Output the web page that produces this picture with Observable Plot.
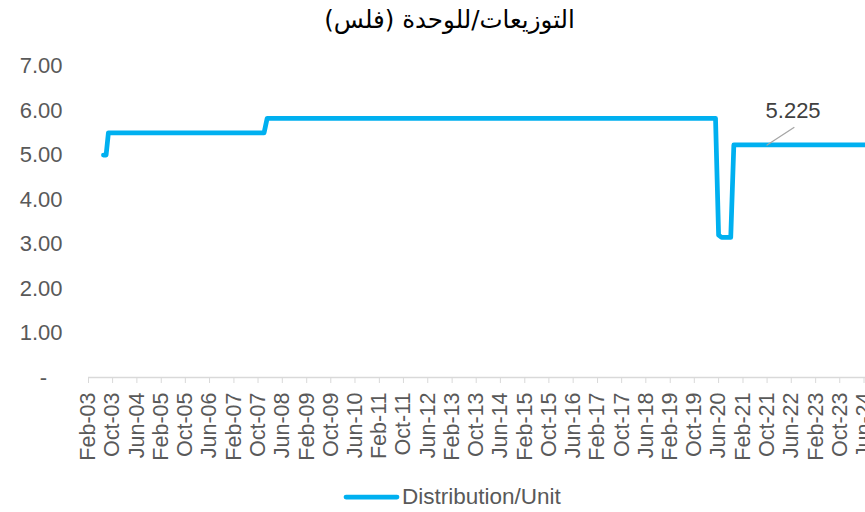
<!DOCTYPE html>
<html>
<head>
<meta charset="utf-8">
<script src="https://cdn.jsdelivr.net/npm/d3@7"></script>
<script src="https://cdn.jsdelivr.net/npm/@observablehq/plot@0.6"></script>
<style>
  body { margin: 0; background: #fff; font-family: "Liberation Sans", Arial, sans-serif; }
  #wrap { width: 865px; height: 512px; overflow: hidden; position: relative; }
  #title { height: 42px; line-height: 40px; text-align: center; font-size: 24.5px; color: #000; font-family: "DejaVu Sans", sans-serif; padding-left: 34px; box-sizing: border-box; }
  #chart { height: 440px; overflow: hidden; }
  #legend { height: 30px; display: flex; align-items: center; padding-left: 342px; font-size: 22.5px; color: #595959; }
  #legend svg { margin-right: 2px; }
</style>
</head>
<body>
<div id="wrap">
  <div id="title" dir="rtl">التوزيعات/للوحدة (فلس)</div>
  <div id="chart"></div>
  <div id="legend"><svg width="58" height="12"><line x1="4" y1="6" x2="55" y2="6" stroke="#00b0f0" stroke-width="4.75" stroke-linecap="round"/></svg><span>Distribution/Unit</span></div>
</div>
<script>
// Distribution per unit (fils) — change points
const dates  = ["2003-07-01","2003-07-28","2003-08-20","2007-12-01","2008-01-01","2020-05-01","2020-06-01","2020-07-01","2020-10-01","2020-11-01","2025-03-01"];
const values = [5.0, 5.0, 5.5, 5.5, 5.825, 5.825, 3.2, 3.15, 3.15, 5.225, 5.225];

// x-axis tick labels (every 8 months)
const tickLabels = ["Feb-03","Oct-03","Jun-04","Feb-05","Oct-05","Jun-06","Feb-07","Oct-07","Jun-08","Feb-09","Oct-09","Jun-10","Feb-11","Oct-11","Jun-12","Feb-13","Oct-13","Jun-14","Feb-15","Oct-15","Jun-16","Feb-17","Oct-17","Jun-18","Feb-19","Oct-19","Jun-20","Feb-21","Oct-21","Jun-22","Feb-23","Oct-23","Jun-24"];
const yTicks = [1, 2, 3, 4, 5, 6, 7];

// data label
const annDates = ["2021-10-01"];
const annValues = [5.225];
const annLabels = ["5.225"];

const parseISO = d3.utcParse("%Y-%m-%d");
const parseTick = d3.utcParse("%b-%y");
const series = dates.map((d, i) => ({date: parseISO(d), value: values[i]}));
const tickDates = tickLabels.map(parseTick);
const ann = annDates.map((d, i) => ({date: parseISO(d), value: annValues[i], label: annLabels[i]}));

const x0 = parseTick("Feb-03");
const x1 = parseTick("Feb-25");
const pxPerMonth = 3.03;
const months = d3.utcMonth.count(x0, x1);

const leader = { draw(ctx, l) { ctx.moveTo(0, 0); ctx.lineTo(0, -l); } };

const chart = Plot.plot({
  width: 865,
  height: 440,
  marginTop: 23.5,
  marginBottom: 105,
  marginLeft: 88,
  marginRight: 0,
  style: { fontFamily: "Liberation Sans, Arial, sans-serif", fontSize: "22px", background: "#fff" },
  x: { type: "utc", domain: [x0, x1], range: [88, 88 + months * pxPerMonth] },
  y: { domain: [0, 7] },
  marks: [
    Plot.ruleY([0], { stroke: "#d9d9d9", strokeWidth: 1.3 }),
    Plot.axisX(tickDates, {
      tickFormat: d3.utcFormat("%b-%y"), tickRotate: -90, tickSize: 6, tickPadding: 9,
      fontSize: 21.5, color: "#595959", stroke: "#d9d9d9", label: null
    }),
    Plot.axisY(yTicks, { tickFormat: d => d.toFixed(2), tickSize: 0, tickPadding: 26, fontSize: 22, color: "#595959", label: null }),
    Plot.axisY([0], { tickFormat: () => "-", tickSize: 0, tickPadding: 41.5, fontSize: 22, color: "#595959", label: null }),
    Plot.line(series, { x: "date", y: "value", stroke: "#00b0f0", strokeWidth: 4.75, strokeLinejoin: "round", strokeLinecap: "round" }),
    Plot.vector(ann, { x: "date", y: "value", length: 32, rotate: 57, anchor: "start", shape: leader, stroke: "#a6a6a6", strokeWidth: 1.3 }),
    Plot.text(ann, { x: "date", y: "value", text: "label", dx: 26, dy: -34, fontSize: 22, fill: "#404040" })
  ]
});
document.getElementById("chart").appendChild(chart);
</script>
</body>
</html>
